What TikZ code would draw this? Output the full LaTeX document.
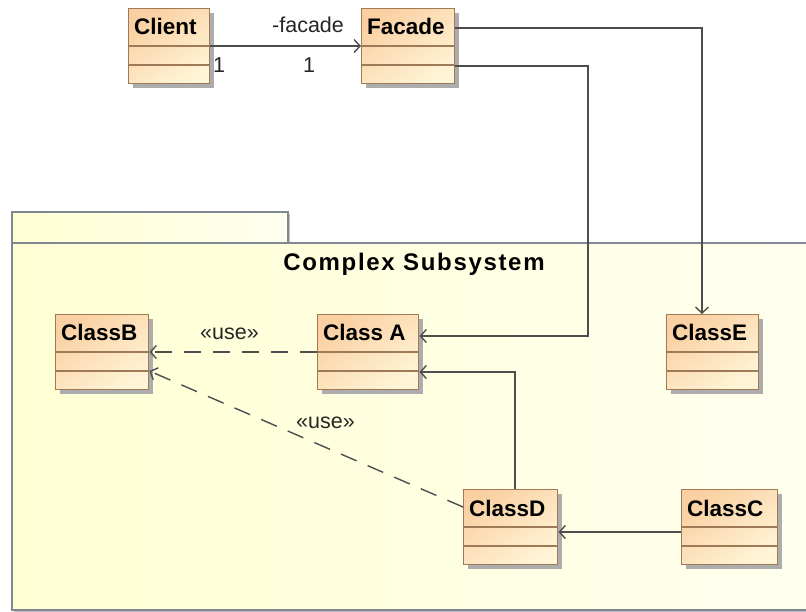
\documentclass[tikz,border=0pt]{standalone}
\usepackage{fontspec}
\setmainfont{Liberation Sans}
\usetikzlibrary{arrows.meta,calc,shadows}

\definecolor{clsTop}{RGB}{250,208,162}
\definecolor{clsBot}{RGB}{255,244,214}
\definecolor{clsEdge}{RGB}{158,122,86}
\definecolor{pkgLeft}{RGB}{255,255,212}
\definecolor{pkgRight}{RGB}{255,255,238}
\definecolor{pkgEdge}{RGB}{128,136,148}
\definecolor{wire}{RGB}{78,78,78}

\tikzset{
  classbox/.style={draw=clsEdge, line width=1.4pt, inner sep=0pt,
    minimum height=75pt, anchor=north west,
    top color=clsTop, bottom color=clsBot, shading angle=35,
    drop shadow={shadow xshift=4pt, shadow yshift=-4pt, fill=black!32, opacity=1}},
  classline/.style={draw=clsEdge, line width=1.3pt},
  classname/.style={anchor=base west, inner sep=0pt, font=\fontsize{22.5}{24}\selectfont\bfseries},
  pkgshape/.style={draw=pkgEdge, line width=1.5pt, left color=pkgLeft, right color=pkgRight,
    drop shadow={shadow xshift=2pt, shadow yshift=-2pt, fill=black!25, opacity=1}},
  lbl/.style={anchor=base west, inner sep=0pt, font=\fontsize{21.5}{24}\selectfont, text=black!85},
  assoc/.style={draw=wire, line width=1.4pt, -{Straight Barb[length=6pt,width=13pt,line width=1.4pt]}},
  usedep/.style={assoc, dash pattern=on 17pt off 12pt}
}

% a UML class: node name, top-left x, top-left y, width, title
\newcommand{\umlclass}[5]{%
  \node[classbox, minimum width=#4] (#1) at (#2,#3) {};
  \node[classname] (#1-title) at ($(#1.north west)+(6,27)$) {#5};
  \draw[classline] ($(#1.north west)+(0,38)$) -- ($(#1.north east)+(0,38)$);
  \draw[classline] ($(#1.north west)+(0,57)$) -- ($(#1.north east)+(0,57)$);
}

\begin{document}
\begin{tikzpicture}[x=1pt,y=-1pt]
\useasboundingbox (0,0) rectangle (806,612);
\fill[white] (0,0) rectangle (806,612);

% package with its tab
\path[pkgshape] (12,212) rectangle (288,243);
\path[pkgshape] (12,243) rectangle (812,610);
\node[anchor=base, inner sep=0pt,
      font=\fontsize{24}{26}\selectfont\bfseries\addfontfeature{LetterSpace=7}]
  (pkgtitle) at (414,271) {Complex Subsystem};

% classes
\umlclass{client}{128}{8}{81pt}{Client}
\umlclass{facade}{361}{8}{93pt}{Facade}
\umlclass{classB}{55}{314}{93pt}{ClassB}
\umlclass{classA}{317}{314}{101pt}{Class A}
\umlclass{classE}{666}{314}{92pt}{ClassE}
\umlclass{classD}{463}{489}{94pt}{ClassD}
\umlclass{classC}{681}{489}{96pt}{ClassC}

% bend points
\coordinate (bendFA) at (588,200);

% associations
\draw[assoc] ($(client.north east)+(0,38)$) -- ($(facade.north west)+(0,38)$);
\node[lbl] (roleFacade) at (272,33) {-facade};
\node[lbl] (multClient) at (213,73) {1};
\node[lbl] (multFacade) at (303,73) {1};

\draw[assoc] ($(facade.north east)+(0,20)$) -| ($(classE.north west)+(36,0)$);
\draw[assoc] ($(facade.north east)+(0,58)$) -| (bendFA) |- ($(classA.north east)+(0,22)$);
\draw[assoc] ($(classD.north west)+(52,0)$) |- ($(classA.north east)+(0,58)$);
\draw[assoc] ($(classC.north west)+(0,43)$) -- ($(classD.north east)+(0,43)$);

% usage dependencies
\draw[usedep] ($(classA.north west)+(0,38)$) -- ($(classB.north east)+(0,38)$);
\node[lbl] (useAB) at (200,340) {«use»};
\draw[usedep] ($(classD.north west)+(0,18)$) -- ($(classB.north east)+(0,57)$);
\node[lbl] (useDB) at (296,428) {«use»};
\end{tikzpicture}
\end{document}
